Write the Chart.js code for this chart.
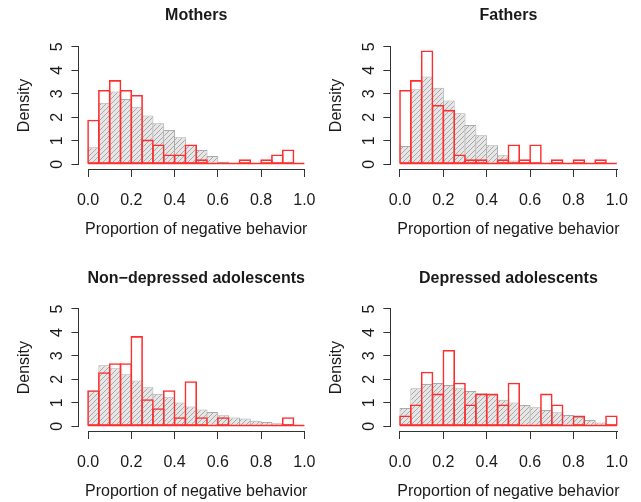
<!DOCTYPE html>
<html>
<head>
  <title>Negative behavior histograms</title>
  <script src="https://cdn.jsdelivr.net/npm/chart.js"></script>
  <style>
    body { margin: 0; background: #fff; }
    #wrap { position: relative; width: 641px; height: 502px; }
    canvas { position: absolute; }
  </style>
</head>
<body>
<div id="wrap">
  <canvas id="c1" width="320" height="251" style="left:0;top:0"></canvas>
  <canvas id="c2" width="321" height="251" style="left:320px;top:0"></canvas>
  <canvas id="c3" width="320" height="251" style="left:0;top:251px"></canvas>
  <canvas id="c4" width="321" height="251" style="left:320px;top:251px"></canvas>
</div>
<script>
// bins of width 0.05, given by their mid points
const binMids = [0.025, 0.075, 0.125, 0.175, 0.225, 0.275, 0.325, 0.375, 0.425, 0.475,
                 0.525, 0.575, 0.625, 0.675, 0.725, 0.775, 0.825, 0.875, 0.925, 0.975];
const xTicks = [0, 0.2, 0.4, 0.6, 0.8, 1.0];
const yTicks = [0, 1, 2, 3, 4, 5];

const titles = ['Mothers', 'Fathers', 'Non\u2212depressed adolescents', 'Depressed adolescents'];
const xTitle = 'Proportion of negative behavior';
const yTitle = 'Density';

// grey hatched histograms
const mothersGrey = [0.72, 2.62, 3.09, 2.78, 2.45, 2.07, 1.74, 1.46, 1.15, 0.82,
                     0.61, 0.35, 0.11, 0.03, 0, 0, 0, 0, 0, 0];
const fathersGrey = [0.78, 3.19, 3.73, 3.26, 2.71, 2.17, 1.67, 1.23, 0.81, 0.38,
                     0.16, 0.06, 0.02, 0, 0, 0, 0, 0, 0, 0];
const nonDepGrey  = [1.52, 2.6, 2.47, 2.22, 1.95, 1.66, 1.39, 1.24, 1.01, 0.84,
                     0.72, 0.61, 0.47, 0.38, 0.33, 0.24, 0.18, 0.13, 0.09, 0.04];
const depGrey     = [0.78, 1.62, 1.8, 1.85, 1.76, 1.62, 1.5, 1.41, 1.34, 1.13,
                     1.01, 0.91, 0.81, 0.69, 0.6, 0.48, 0.4, 0.27, 0.16, 0.08];

// red outlined histograms
const mothersRed = [1.895, 3.158, 3.579, 3.158, 2.947, 1.053, 0.842, 0.421, 0.421, 0.842,
                    0.211, 0, 0, 0, 0.211, 0, 0.211, 0.421, 0.632, 0];
const fathersRed = [3.158, 3.579, 4.842, 2.526, 2.316, 0.421, 0.211, 0.211, 0, 0.211,
                    0.842, 0.211, 0.842, 0, 0.211, 0, 0.211, 0, 0.211, 0];
const nonDepRed  = [1.538, 2.308, 2.692, 2.692, 3.846, 1.154, 0.769, 1.538, 0.385, 1.923,
                    0.385, 0, 0.385, 0, 0, 0, 0, 0, 0.385, 0];
const depRed     = [0.465, 0.930, 2.326, 1.395, 3.256, 1.860, 0.930, 1.395, 1.395, 0.930,
                    1.860, 0, 0, 1.395, 0.930, 0, 0.465, 0, 0, 0.465];

const RED = '#ff2e2e';
const AXIS = '#333';
const TEXT = '#1a1a1a';
const FONT = "'Liberation Sans', Arial, sans-serif";

Chart.defaults.font.family = FONT;
Chart.defaults.font.size = 16;
Chart.defaults.color = TEXT;

// diagonal hatch like R's density lines
function makeHatch() {
  var c = document.createElement('canvas');
  c.width = 5; c.height = 5;
  var g = c.getContext('2d');
  g.fillStyle = '#e6e6e6';
  g.fillRect(0, 0, 5, 5);
  g.strokeStyle = '#a8a8a8';
  g.lineWidth = 1;
  g.beginPath();
  g.moveTo(-1, 6); g.lineTo(6, -1);
  g.moveTo(-1, 1); g.lineTo(1, -1);
  g.moveTo(4, 6); g.lineTo(6, 4);
  g.stroke();
  return g.createPattern(c, 'repeat');
}
var hatch = makeHatch();

// axis lines that span only the tick range, and the red zero line of the histogram
const rStyle = {
  id: 'rStyle',
  afterDatasetsDraw(chart) {
    const {ctx, scales: {x, y}} = chart;
    const y0 = y.getPixelForValue(0);
    ctx.save();
    ctx.strokeStyle = RED;
    ctx.lineWidth = 1.6;
    ctx.beginPath();
    ctx.moveTo(x.getPixelForValue(xTicks[0]), y0 - 0.8);
    ctx.lineTo(x.getPixelForValue(xTicks[xTicks.length - 1]), y0 - 0.8);
    ctx.stroke();
    ctx.restore();
  },
  afterDraw(chart) {
    const {ctx, chartArea, scales: {x, y}} = chart;
    ctx.save();
    ctx.strokeStyle = AXIS;
    ctx.lineWidth = 1;
    ctx.beginPath();
    ctx.moveTo(Math.round(x.getPixelForValue(xTicks[0])), Math.round(chartArea.bottom) + 0.5);
    ctx.lineTo(Math.round(x.getPixelForValue(xTicks[xTicks.length - 1])) + 1, Math.round(chartArea.bottom) + 0.5);
    ctx.moveTo(Math.round(chartArea.left) - 0.5, Math.round(y.getPixelForValue(yTicks[0])) + 1);
    ctx.lineTo(Math.round(chartArea.left) - 0.5, Math.round(y.getPixelForValue(yTicks[yTicks.length - 1])));
    ctx.stroke();
    ctx.restore();
  }
};

// placement of each plot region inside its canvas
const panels = [
  {id: 'c1', title: titles[0], grey: mothersGrey, red: mothersRed, W: 320, H: 251, left: 79.4, right: 313, top: 42, bottom: 169, titleY: 16},
  {id: 'c2', title: titles[1], grey: fathersGrey, red: fathersRed, W: 321, H: 251, left: 71.3, right: 305.5, top: 42, bottom: 169, titleY: 16},
  {id: 'c3', title: titles[2], grey: nonDepGrey, red: nonDepRed, W: 320, H: 251, left: 79.4, right: 313, top: 53.3, bottom: 180, titleY: 28},
  {id: 'c4', title: titles[3], grey: depGrey, red: depRed, W: 321, H: 251, left: 71.3, right: 305.5, top: 53.3, bottom: 180, titleY: 28}
];

panels.forEach(function(p) {
  var lh = 16 * 1.2;
  var ctx = document.getElementById(p.id).getContext('2d');
  new Chart(ctx, {
    type: 'bar',
    data: {
      datasets: [
        {
          data: p.red.map((v, i) => ({x: binMids[i], y: v})),
          backgroundColor: 'rgba(0,0,0,0)',
          borderColor: RED,
          borderWidth: 1.6,
          borderSkipped: false,
          barPercentage: 1.15,
          categoryPercentage: 1,
          grouped: false,
          order: 0
        },
        {
          data: p.grey.map((v, i) => ({x: binMids[i], y: v})),
          backgroundColor: hatch,
          borderColor: '#aaaaaa',
          borderWidth: 1,
          borderSkipped: false,
          barPercentage: 1.09,
          categoryPercentage: 1,
          grouped: false,
          order: 1
        }
      ]
    },
    options: {
      responsive: false,
      animation: false,
      events: [],
      layout: { padding: { left: 0, right: p.W - p.right, top: 0, bottom: 0 } },
      scales: {
        x: {
          type: 'linear',
          offset: false,
          min: -0.04,
          max: 1.04,
          afterBuildTicks: s => { s.ticks = xTicks.map(v => ({value: v})); },
          afterFit: s => { s.height = p.H - p.bottom; s.paddingLeft = 0; s.paddingRight = 0; },
          ticks: {
            autoSkip: false,
            maxRotation: 0,
            padding: 14,
            color: TEXT,
            callback: v => v.toFixed(1)
          },
          grid: { display: true, offset: false, drawOnChartArea: false, drawTicks: true, tickLength: 8, color: AXIS, lineWidth: 1 },
          border: { display: false },
          title: {
            display: true,
            text: xTitle,
            color: TEXT,
            padding: { top: 0, bottom: p.H - p.bottom - 61 - lh / 2 }
          }
        },
        y: {
          type: 'linear',
          min: -0.2,
          max: 5.2,
          afterBuildTicks: s => { s.ticks = yTicks.map(v => ({value: v})); },
          afterFit: s => { s.width = p.left; s.paddingTop = 0; s.paddingBottom = 0; },
          ticks: {
            minRotation: 90,
            maxRotation: 90,
            crossAlign: 'center',
            padding: 9.5,
            color: TEXT,
            callback: v => String(v)
          },
          grid: { display: true, drawOnChartArea: false, drawTicks: true, tickLength: 8, color: AXIS, lineWidth: 1 },
          border: { display: false },
          title: {
            display: true,
            text: yTitle,
            color: TEXT,
            padding: { top: p.left - 55 - lh / 2, bottom: 0 }
          }
        }
      },
      plugins: {
        legend: { display: false },
        tooltip: { enabled: false },
        title: {
          display: true,
          text: p.title,
          fullSize: false,
          color: TEXT,
          font: { size: 16, weight: 'bold' },
          padding: { top: p.titleY - lh / 2, bottom: p.top - p.titleY - lh / 2 }
        }
      }
    },
    plugins: [rStyle]
  });
});
</script>
</body>
</html>
